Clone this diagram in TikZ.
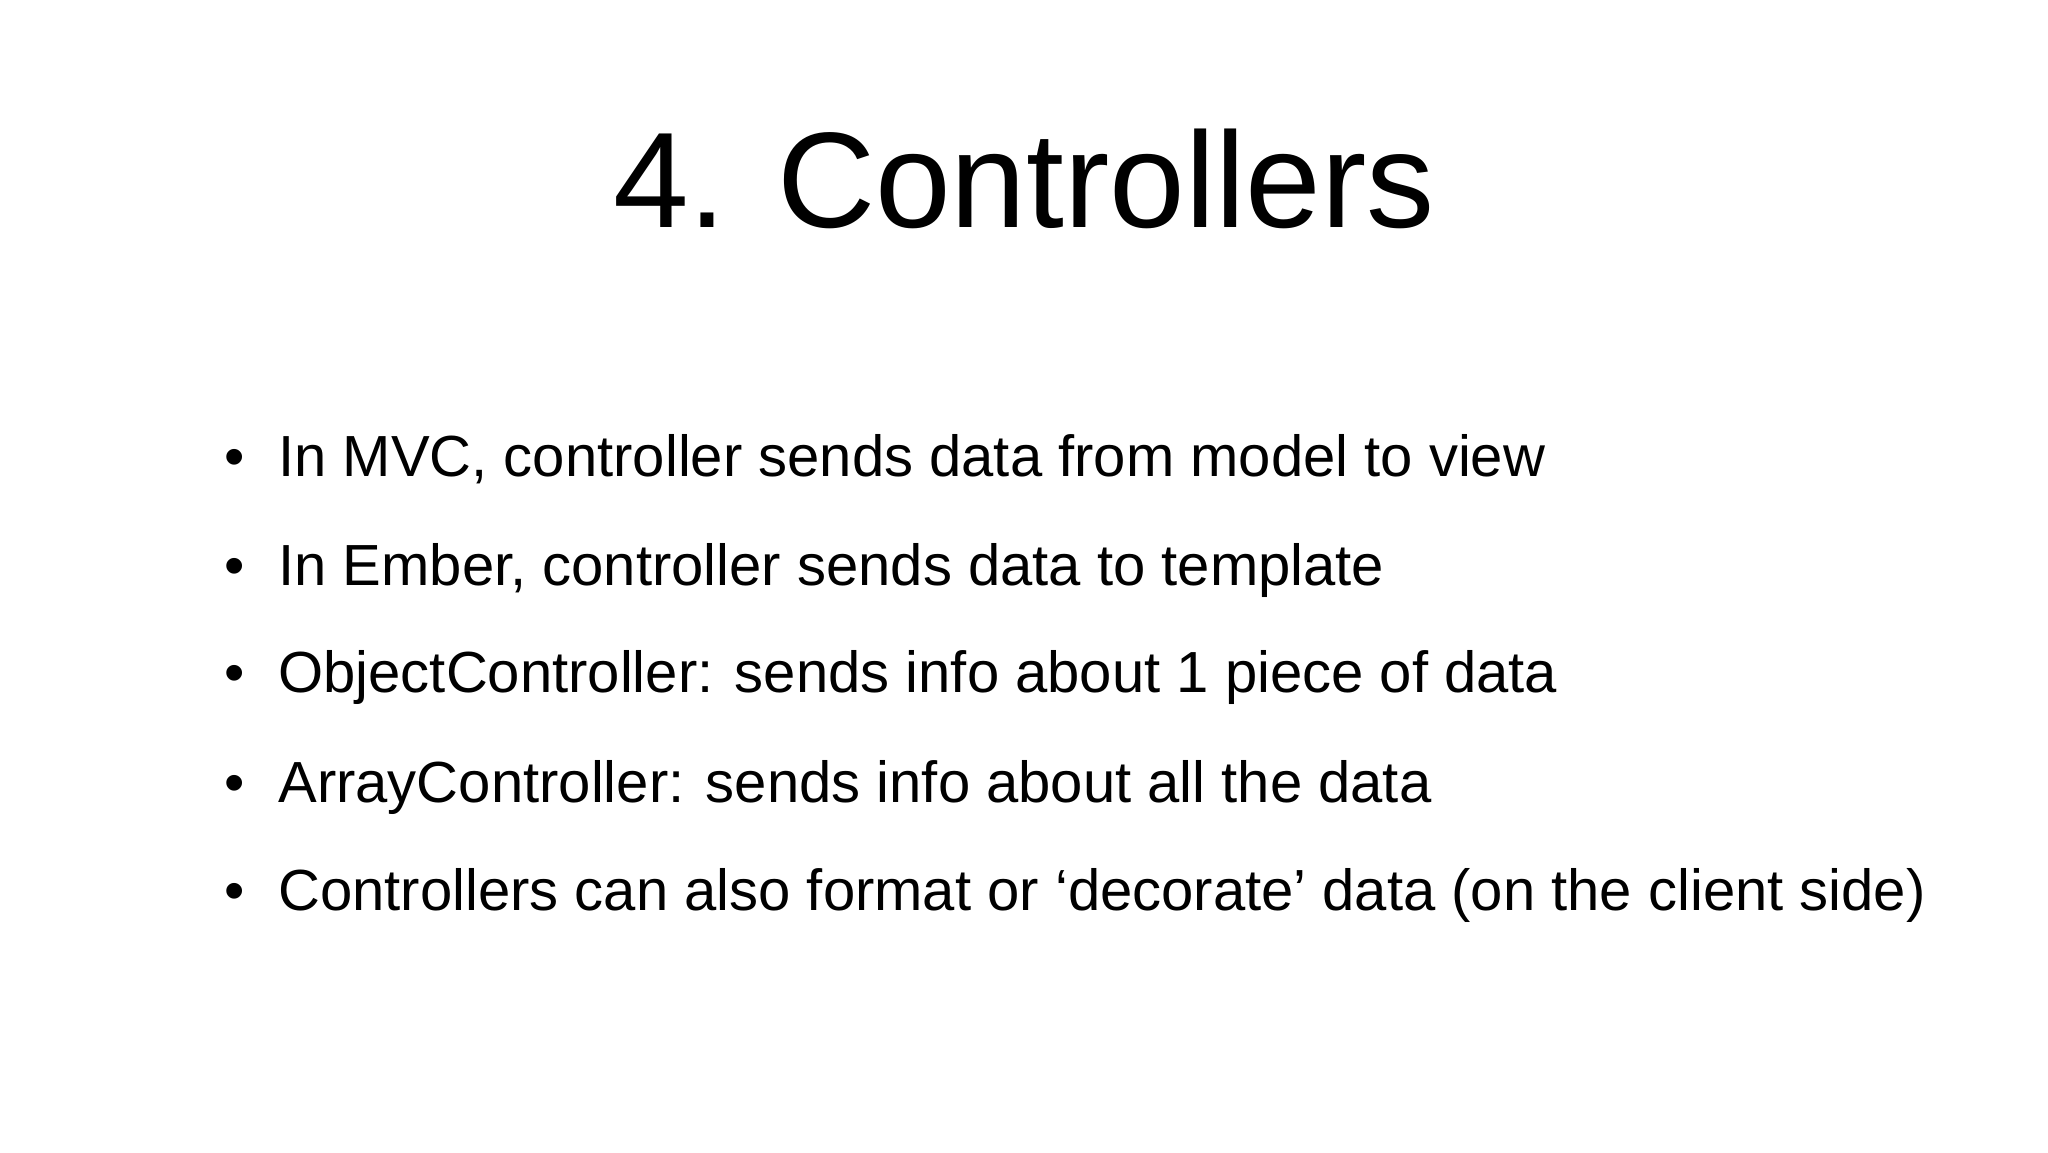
\documentclass[tikz,border=0pt]{standalone}
\usepackage{fontspec}
\setmainfont{Liberation Sans}
\begin{document}
\begin{tikzpicture}[x=1pt,y=1pt,
  item/.style={anchor=base west,inner sep=0pt,font=\fontsize{29}{34}\selectfont},
  bul/.style={anchor=base,inner sep=0pt,font=\fontsize{29}{34}\selectfont}]
\useasboundingbox (0,0) rectangle (1024,576);
\node[anchor=base,inner sep=0pt,font=\fontsize{68}{80}\selectfont] (title) at (512,462) {4. Controllers};
\foreach \y/\t [count=\i] in {337.5/{In MVC, controller sends data from model to view},
  283.5/{In Ember, controller sends data to template},
  229.5/{ObjectController: sends info about 1 piece of data},
  175/{ArrayController: sends info about all the data},
  121/{Controllers can also format or ‘decorate’ data (on the client side)}}{
  \node[bul] (b\i) at (117.5,\y) {•};
  \node[item] (t\i) at (139,\y) {\t};
}
\end{tikzpicture}
\end{document}
